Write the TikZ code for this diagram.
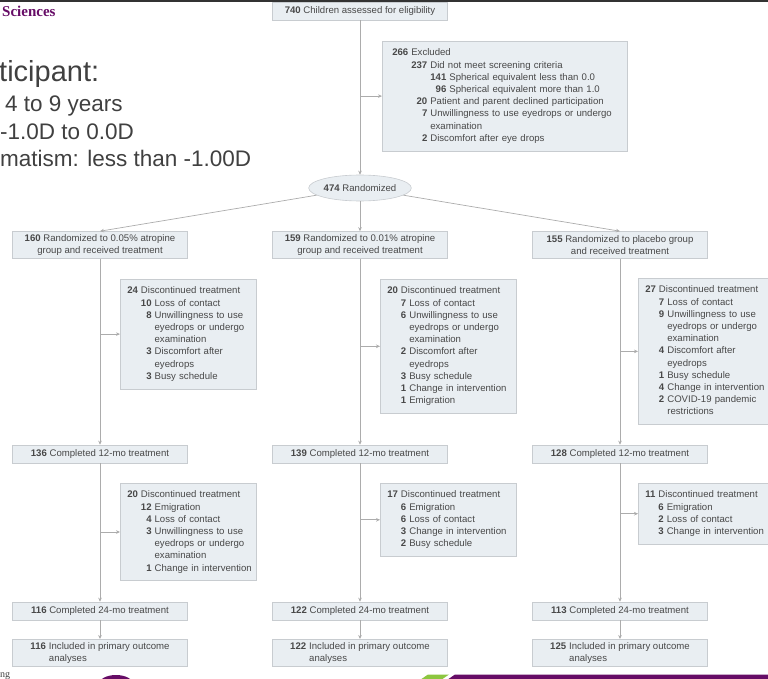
\documentclass[tikz,border=0pt]{standalone}
\usepackage{fontspec}
\setmainfont{Liberation Sans}
\newfontfamily\logofont{Liberation Serif}
\usetikzlibrary{shapes.geometric,arrows.meta}

\definecolor{boxfill}{RGB}{233,238,242}
\definecolor{boxedge}{RGB}{200,204,208}
\definecolor{flowgray}{RGB}{172,172,172}
\definecolor{flowtext}{RGB}{72,72,72}
\definecolor{slidegray}{RGB}{64,64,64}
\definecolor{brandpurple}{RGB}{102,12,102}
\definecolor{brandgreen}{RGB}{140,198,63}

\newcommand{\flowfont}{\fontsize{9.6}{12.2}\selectfont}

\tikzset{
	flowbox/.style={draw=boxedge, fill=boxfill, text=flowtext, font=\flowfont, line width=0.6pt},
	mainbox/.style={flowbox, minimum width=175pt, minimum height=18pt, inner sep=1.5pt, align=center},
	reasonbox/.style={flowbox, anchor=north west, text width=122pt, inner xsep=7pt, inner ysep=6pt},
	randbox/.style={flowbox, ellipse, minimum width=92pt, minimum height=26pt, inner sep=0pt},
	slidetext/.style={anchor=base west, inner sep=0pt, text=slidegray}
}

\begin{document}
\begin{tikzpicture}[x=1pt, y=-1pt, >={Stealth[length=4pt,width=3.6pt]}]
	\useasboundingbox (0,0) rectangle (768,679);
	
	%slide text
	\node[anchor=base west, inner sep=0pt, text=brandpurple, font=\logofont\bfseries\fontsize{15}{15}\selectfont] (sciences) at (2,17) {Sciences};
	\node[slidetext, font=\fontsize{29}{29}\selectfont] (who) at (-1,82) {ticipant:};
	\node[slidetext, font=\fontsize{22.5}{22.5}\selectfont] (age) at (5,112) {4 to 9 years};
	\node[slidetext, font=\fontsize{22.5}{22.5}\selectfont] (refr) at (0,140) {-1.0D to 0.0D};
	\node[slidetext, font=\fontsize{22.5}{22.5}\selectfont] (astig) at (0,167) {matism: less than -1.00D};
	\node[anchor=base west, inner sep=0pt, text=slidegray, font=\logofont\fontsize{10}{10}\selectfont] (foot) at (0,677) {ng};
	
	%flowchart, top part
	\node[mainbox] (assessed) at (360,11) {\textbf{740} Children assessed for eligibility};
	\node[reasonbox, text width=225pt, inner xsep=10pt] (excluded) at (382,41) {%
		\begin{tabular}{@{}r@{\hspace{3pt}}r@{\hspace{3pt}}r@{\hspace{3pt}}l@{}}
			\textbf{266} & \multicolumn{3}{@{}l@{}}{Excluded}\\
			& \textbf{237} & \multicolumn{2}{@{}l@{}}{Did not meet screening criteria}\\
			& & \textbf{141} & Spherical equivalent less than 0.0\\
			& & \textbf{96} & Spherical equivalent more than 1.0\\
			& \textbf{20} & \multicolumn{2}{@{}l@{}}{Patient and parent declined participation}\\
			& \textbf{7} & \multicolumn{2}{@{}l@{}}{Unwillingness to use eyedrops or undergo}\\
			& & \multicolumn{2}{@{}l@{}}{examination}\\
			& \textbf{2} & \multicolumn{2}{@{}l@{}}{Discomfort after eye drops}
		\end{tabular}};
	\node[randbox] (random) at (360,188) {\textbf{474} Randomized};
	
	%randomized arms
	\node[mainbox, minimum height=27pt] (armA) at (100,245) {\textbf{160} Randomized to 0.05\% atropine\\group and received treatment};
	\node[mainbox, minimum height=27pt] (armB) at (360,245) {\textbf{159} Randomized to 0.01\% atropine\\group and received treatment};
	\node[mainbox, minimum height=27pt] (armC) at (620,245) {\textbf{155} Randomized to placebo group\\and received treatment};
	
	%first year
	\node[reasonbox] (quitA1) at (120,279) {%
		\begin{tabular}{@{}r@{\hspace{3pt}}r@{\hspace{3pt}}l@{}}
			\textbf{24} & \multicolumn{2}{@{}l@{}}{Discontinued treatment}\\
			& \textbf{10} & Loss of contact\\
			& \textbf{8} & Unwillingness to use\\
			& & eyedrops or undergo\\
			& & examination\\
			& \textbf{3} & Discomfort after\\
			& & eyedrops\\
			& \textbf{3} & Busy schedule
		\end{tabular}};
	\node[reasonbox] (quitB1) at (380,279) {%
		\begin{tabular}{@{}r@{\hspace{3pt}}r@{\hspace{3pt}}l@{}}
			\textbf{20} & \multicolumn{2}{@{}l@{}}{Discontinued treatment}\\
			& \textbf{7} & Loss of contact\\
			& \textbf{6} & Unwillingness to use\\
			& & eyedrops or undergo\\
			& & examination\\
			& \textbf{2} & Discomfort after\\
			& & eyedrops\\
			& \textbf{3} & Busy schedule\\
			& \textbf{1} & Change in intervention\\
			& \textbf{1} & Emigration
		\end{tabular}};
	\node[reasonbox] (quitC1) at (638,278) {%
		\begin{tabular}{@{}r@{\hspace{3pt}}r@{\hspace{3pt}}l@{}}
			\textbf{27} & \multicolumn{2}{@{}l@{}}{Discontinued treatment}\\
			& \textbf{7} & Loss of contact\\
			& \textbf{9} & Unwillingness to use\\
			& & eyedrops or undergo\\
			& & examination\\
			& \textbf{4} & Discomfort after\\
			& & eyedrops\\
			& \textbf{1} & Busy schedule\\
			& \textbf{4} & Change in intervention\\
			& \textbf{2} & COVID-19 pandemic\\
			& & restrictions
		\end{tabular}};
	\node[mainbox] (doneA1) at (100,454) {\textbf{136} Completed 12-mo treatment};
	\node[mainbox] (doneB1) at (360,454) {\textbf{139} Completed 12-mo treatment};
	\node[mainbox] (doneC1) at (620,454) {\textbf{128} Completed 12-mo treatment};
	
	%second year
	\node[reasonbox] (quitA2) at (120,483) {%
		\begin{tabular}{@{}r@{\hspace{3pt}}r@{\hspace{3pt}}l@{}}
			\textbf{20} & \multicolumn{2}{@{}l@{}}{Discontinued treatment}\\
			& \textbf{12} & Emigration\\
			& \textbf{4} & Loss of contact\\
			& \textbf{3} & Unwillingness to use\\
			& & eyedrops or undergo\\
			& & examination\\
			& \textbf{1} & Change in intervention
		\end{tabular}};
	\node[reasonbox] (quitB2) at (380,483) {%
		\begin{tabular}{@{}r@{\hspace{3pt}}r@{\hspace{3pt}}l@{}}
			\textbf{17} & \multicolumn{2}{@{}l@{}}{Discontinued treatment}\\
			& \textbf{6} & Emigration\\
			& \textbf{6} & Loss of contact\\
			& \textbf{3} & Change in intervention\\
			& \textbf{2} & Busy schedule
		\end{tabular}};
	\node[reasonbox] (quitC2) at (638,483) {%
		\begin{tabular}{@{}r@{\hspace{3pt}}r@{\hspace{3pt}}l@{}}
			\textbf{11} & \multicolumn{2}{@{}l@{}}{Discontinued treatment}\\
			& \textbf{6} & Emigration\\
			& \textbf{2} & Loss of contact\\
			& \textbf{3} & Change in intervention
		\end{tabular}};
	\node[mainbox] (doneA2) at (100,611) {\textbf{116} Completed 24-mo treatment};
	\node[mainbox] (doneB2) at (360,611) {\textbf{122} Completed 24-mo treatment};
	\node[mainbox] (doneC2) at (620,611) {\textbf{113} Completed 24-mo treatment};
	
	%analysis
	\node[mainbox, minimum height=27pt] (inclA) at (100,653) {\begin{tabular}{@{}r@{\hspace{3pt}}l@{}}\textbf{116} & Included in primary outcome\\ & analyses\end{tabular}};
	\node[mainbox, minimum height=27pt] (inclB) at (360,653) {\begin{tabular}{@{}r@{\hspace{3pt}}l@{}}\textbf{122} & Included in primary outcome\\ & analyses\end{tabular}};
	\node[mainbox, minimum height=27pt] (inclC) at (620,653) {\begin{tabular}{@{}r@{\hspace{3pt}}l@{}}\textbf{125} & Included in primary outcome\\ & analyses\end{tabular}};
	
	%connectors
	\draw[->, flowgray, line width=0.7pt] (assessed) -- (random);
	\draw[->, flowgray, line width=0.7pt] (assessed |- excluded.west) -- (excluded.west);
	\foreach \g in {A,B,C}{
		\draw[->, flowgray, line width=0.7pt] (random) -- (arm\g.north);
		\draw[->, flowgray, line width=0.7pt] (arm\g) -- (done\g1);
		\draw[->, flowgray, line width=0.7pt] (arm\g |- quit\g1.west) -- (quit\g1.west);
		\draw[->, flowgray, line width=0.7pt] (done\g1) -- (done\g2);
		\draw[->, flowgray, line width=0.7pt] (done\g1 |- quit\g2.west) -- (quit\g2.west);
		\draw[->, flowgray, line width=0.7pt] (done\g2) -- (incl\g);
	}
	
	%slide frame
	\draw[line width=2.2pt, black!80] (0,1) -- (768,1);
	\fill[brandpurple] (116,684) ellipse [x radius=17, y radius=9];
	\fill[brandgreen] (420,680) -- (428,674.5) -- (449,674.5) -- (441,680) -- cycle;
	\fill[brandpurple] (447,680) -- (455,674.5) -- (768,674.5) -- (768,680) -- cycle;
\end{tikzpicture}
\end{document}
